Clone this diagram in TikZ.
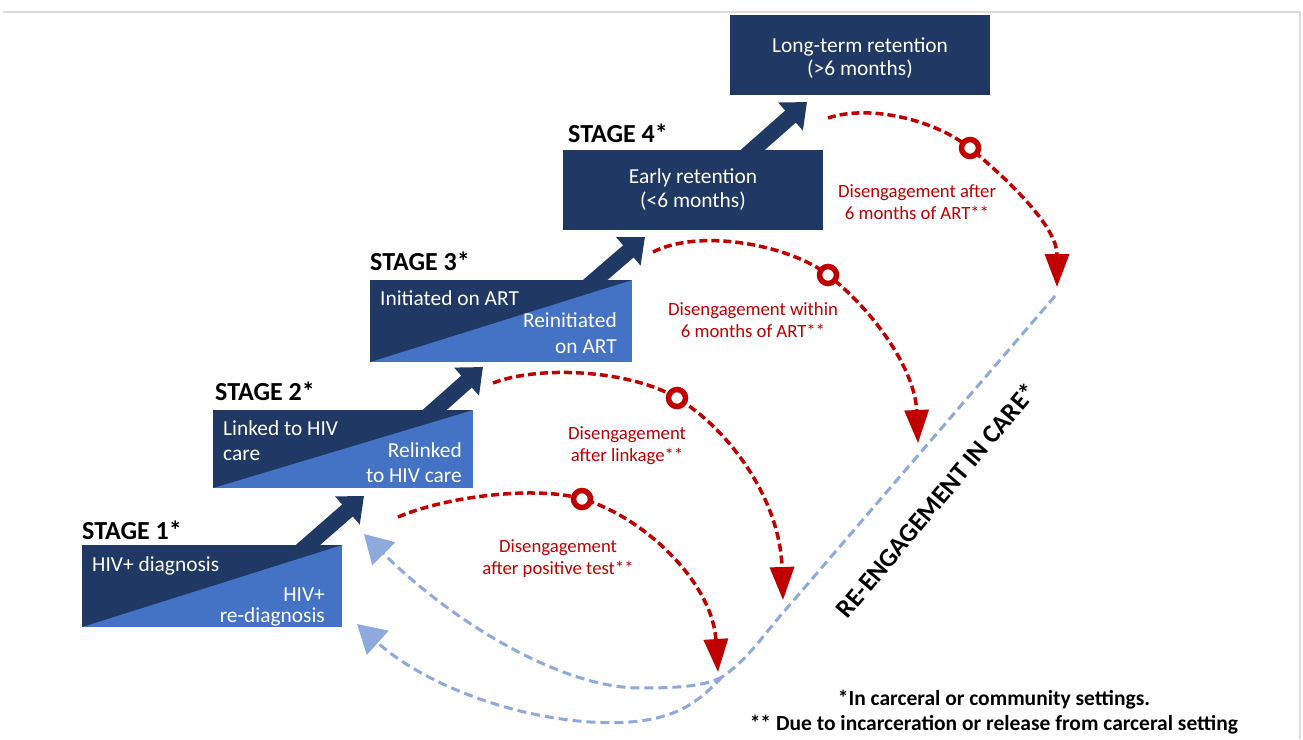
\documentclass[tikz,border=0pt]{standalone}
\usepackage{fontspec}
\setmainfont{Carlito}
\usetikzlibrary{arrows.meta}
\definecolor{navy}{HTML}{203864}
\definecolor{lblue}{HTML}{4472C4}
\definecolor{dred}{HTML}{C00000}
\definecolor{rblue}{HTML}{8EA9DB}
\definecolor{framegray}{HTML}{DDDDDD}
\begin{document}
\begin{tikzpicture}[x=1pt,y=-1pt,
  stagebox/.style={rectangle,inner sep=0pt,fill=lblue,
    path picture={\fill[navy] (path picture bounding box.north west) -- (path picture bounding box.north east) -- (path picture bounding box.south west) -- cycle;}},
  darkbox/.style={rectangle,inner sep=0pt,fill=navy},
  btxt/.style={text=white,font=\fontsize{21.4}{25}\selectfont,inner sep=0pt},
  stagelbl/.style={font=\bfseries\fontsize{26}{30}\selectfont,anchor=base west,inner sep=0pt},
  redlbl/.style={text=dred,font=\fontsize{18.7}{22}\selectfont,align=center,inner sep=0pt},
  progarrow/.style={navy,line width=16pt,-{Triangle[length=22pt,width=36pt]}},
  disarc/.style={dred,line width=3.5pt,dash pattern=on 8pt off 4pt,-{Triangle[length=33pt,width=24pt]}},
  reline/.style={rblue,line width=3pt,dash pattern=on 9pt off 5pt},
  rearrow/.style={reline,-{Triangle[length=28pt,width=32pt]}},
  ring/.style={circle,solid,draw=dred,fill=white,line width=5.5pt,minimum size=17pt,inner sep=0pt}]
\useasboundingbox (0,0) rectangle (1303,739);
\fill[white] (0,0) rectangle (1303,739);
\draw[framegray,line width=1.5pt] (3,12) -- (1300,12) -- (1300,739);

% progression arrows (behind boxes)
\coordinate (a1s) at (285,565); \coordinate (a1e) at (364,496);
\coordinate (a2s) at (412,430); \coordinate (a2e) at (483,367);
\coordinate (a3s) at (572,300); \coordinate (a3e) at (645,237);
\coordinate (a4s) at (730,170); \coordinate (a4e) at (807,102);
\draw[progarrow] (a1s) -- (a1e);
\draw[progarrow] (a2s) -- (a2e);
\draw[progarrow] (a3s) -- (a3e);
\draw[progarrow] (a4s) -- (a4e);

% boxes
\node[stagebox,minimum width=260pt,minimum height=82pt] (s1) at (212,586) {};
\node[stagebox,minimum width=260pt,minimum height=78pt] (s2) at (343,449) {};
\node[stagebox,minimum width=262pt,minimum height=82pt] (s3) at (501,321) {};
\node[darkbox,minimum width=260pt,minimum height=80pt] (s4) at (693,190) {};
\node[darkbox,minimum width=260pt,minimum height=80pt] (s5) at (860,55) {};

% stage labels
\node[stagelbl] (l1) at (82,539) {STAGE 1*};
\node[stagelbl] (l2) at (215,400) {STAGE 2*};
\node[stagelbl] (l3) at (370,270) {STAGE 3*};
\node[stagelbl] (l4) at (568,142) {STAGE 4*};

% box texts
\node[btxt,anchor=base west] (t1a) at (92,571) {HIV+ diagnosis};
\node[btxt,anchor=base east] (t1b) at (325,601) {HIV+};
\node[btxt,anchor=base east] (t1c) at (325,622) {re-diagnosis};
\node[btxt,anchor=base west] (t2a) at (223,435) {Linked to HIV};
\node[btxt,anchor=base west] (t2b) at (223,460) {care};
\node[btxt,anchor=base east] (t2c) at (462,457) {Relinked};
\node[btxt,anchor=base east] (t2d) at (462,482) {to HIV care};
\node[btxt,anchor=base west] (t3a) at (380,305) {Initiated on ART};
\node[btxt,anchor=base east] (t3b) at (617,327) {Reinitiated};
\node[btxt,anchor=base east] (t3c) at (617,353) {on ART};
\node[btxt,anchor=base] (t4a) at (693,183) {Early retention};
\node[btxt,anchor=base] (t4b) at (693,207) {(<6 months)};
\node[btxt,anchor=base] (t5a) at (860,52) {Long-term retention};
\node[btxt,anchor=base] (t5b) at (860,75) {(>6 months)};

% re-engagement paths
\coordinate (rb) at (1055,296);
\coordinate (rm) at (775,622);
\coordinate (rj) at (722,677);
\coordinate (b1) at (364,534);
\coordinate (b2) at (357,624);
\draw[reline] (rb) -- (rm) .. controls (758,643) and (742,664) .. (rj);
\draw[rearrow] (rj) .. controls (705,686) and (680,688) .. (640,688) .. controls (560,688) and (450,620) .. (b1);
\draw[rearrow] (rj) .. controls (700,700) and (680,718) .. (630,722) .. controls (540,728) and (430,690) .. (b2);

% disengagement arcs
\coordinate (d1s) at (398,517); \coordinate (d1r) at (582,499); \coordinate (d1e) at (718,672);
\coordinate (d2s) at (493,383); \coordinate (d2r) at (677,398); \coordinate (d2e) at (783,600);
\coordinate (d3s) at (653,252); \coordinate (d3r) at (828,275); \coordinate (d3e) at (918,443);
\coordinate (d4s) at (828,118); \coordinate (d4r) at (970,148); \coordinate (d4e) at (1057,287);
\draw[disarc] (d1s) .. controls (450,495) and (540,486) .. (d1r) .. controls (640,515) and (712,580) .. (d1e);
\draw[disarc] (d2s) .. controls (540,365) and (630,370) .. (d2r) .. controls (730,430) and (780,500) .. (d2e);
\draw[disarc] (d3s) .. controls (700,228) and (790,245) .. (d3r) .. controls (875,312) and (915,370) .. (d3e);
\draw[disarc] (d4s) .. controls (870,104) and (935,120) .. (d4r) .. controls (1020,190) and (1057,230) .. (d4e);
\node[ring] (r1) at (d1r) {};
\node[ring] (r2) at (d2r) {};
\node[ring] (r3) at (d3r) {};
\node[ring] (r4) at (d4r) {};

% red labels
\node[redlbl] (g1) at (558,559) {Disengagement\\after positive test**};
\node[redlbl] (g2) at (627,446) {Disengagement\\after linkage**};
\node[redlbl] (g3) at (753,320) {Disengagement within\\6 months of ART**};
\node[redlbl] (g4) at (917,202) {Disengagement after\\6 months of ART**};

% re-engagement label
\node[font=\bfseries\fontsize{26}{30}\selectfont,rotate=50,inner sep=0pt] (re) at (936,500) {RE-ENGAGEMENT IN CARE*};

% footnotes
\node[font=\bfseries\fontsize{21.5}{25}\selectfont,align=center,inner sep=0pt] (fn) at (994,712) {*In carceral or community settings.\\** Due to incarceration or release from carceral setting};
\end{tikzpicture}
\end{document}
